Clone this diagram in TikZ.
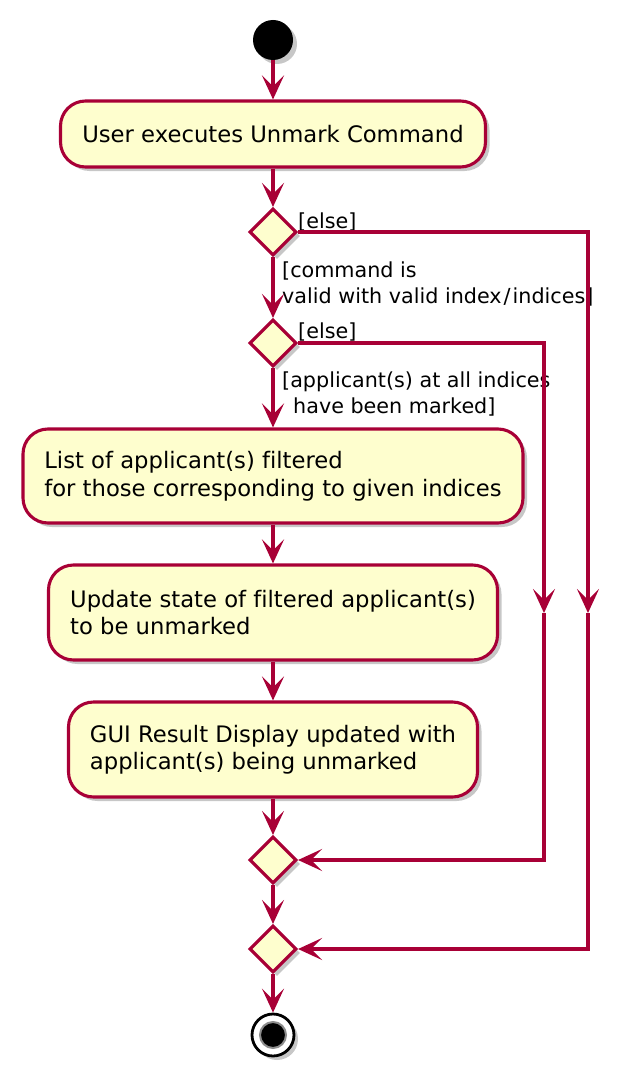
\documentclass[tikz,border=0pt]{standalone}
\usepackage{fontspec}
\setmainfont{DejaVu Sans}[Ligatures=NoCommon]
\usetikzlibrary{arrows.meta,shapes.geometric,shadows}
\definecolor{pfill}{HTML}{FEFECE}
\definecolor{pline}{HTML}{A80036}
\begin{document}
\begin{tikzpicture}[x=1pt,y=-1pt,
  shadowed/.style={drop shadow={shadow xshift=4pt,shadow yshift=-4pt,fill=black,opacity=0.22}},
  actbox/.style={draw=pline,fill=pfill,line width=3.1pt,rounded corners=25pt,inner sep=0pt,align=left,font=\fontsize{22.7}{27.5}\selectfont,shadowed},
  decision/.style={diamond,draw=pline,fill=pfill,line width=3.1pt,minimum width=47pt,minimum height=47pt,inner sep=0pt,shadowed},
  flow/.style={draw=pline,line width=3.1pt,line join=miter,-{Stealth[length=24pt,width=22pt,inset=11pt]}},
  guard/.style={font=\fontsize{20.7}{26}\selectfont,anchor=base west,inner sep=0pt},
]
\useasboundingbox (0,0) rectangle (638,1089);
\node[circle,fill=black,minimum size=40pt,inner sep=0pt,shadowed] (start) at (273,40) {};
\node[actbox,minimum width=425pt,minimum height=66pt] (b1) at (273,134) {User executes Unmark Command};
\node[decision] (d1) at (273,232) {};
\node[decision] (d2) at (273,343) {};
\node[actbox,minimum width=500pt,minimum height=94pt] (b2) at (273,476) {List of applicant(s) filtered\\for those corresponding to given indices};
\node[actbox,minimum width=449pt,minimum height=95pt] (b3) at (273,612.5) {Update state of filtered applicant(s)\\to be unmarked};
\node[actbox,minimum width=409pt,minimum height=95pt] (b4) at (273,749.5) {GUI Result Display updated with\\applicant(s) being unmarked};
\node[decision] (d4) at (273,860) {};
\node[decision] (d5) at (273,949) {};
\node[circle,draw=black,line width=2.8pt,fill=white,minimum size=42pt,inner sep=0pt,shadowed] (end) at (273,1035) {};
\node[circle,draw=black!45,line width=2pt,fill=black,minimum size=26pt,inner sep=0pt] (endin) at (end.center) {};
\node[guard] (g1) at (298,228) {[else]};
\node[guard] (g2) at (298,338) {[else]};
\node[guard] (g3a) at (282,277) {[command is};
\node[guard] (g3b) at (282,303) {valid with valid index\kern2pt/\kern2pt indices]};
\node[guard] (g4a) at (282,387) {[applicant(s) at all indices};
\node[guard] (g4b) at (293,413) {have been marked]};
\coordinate (m1) at (588,613);
\coordinate (m2) at (544,613);
\draw[flow] (start) -- (b1);
\draw[flow] (b1) -- (d1);
\draw[flow] (d1) -- (d2);
\draw[flow] (d2) -- (b2);
\draw[flow] (b2) -- (b3);
\draw[flow] (b3) -- (b4);
\draw[flow] (b4) -- (d4);
\draw[flow] (d4) -- (d5);
\draw[flow] (d5) -- (end);
\draw[flow] (d1.east) -| (m1);
\draw[flow] (m1) |- (d5.east);
\draw[flow] (d2.east) -| (m2);
\draw[flow] (m2) |- (d4.east);
\end{tikzpicture}
\end{document}
